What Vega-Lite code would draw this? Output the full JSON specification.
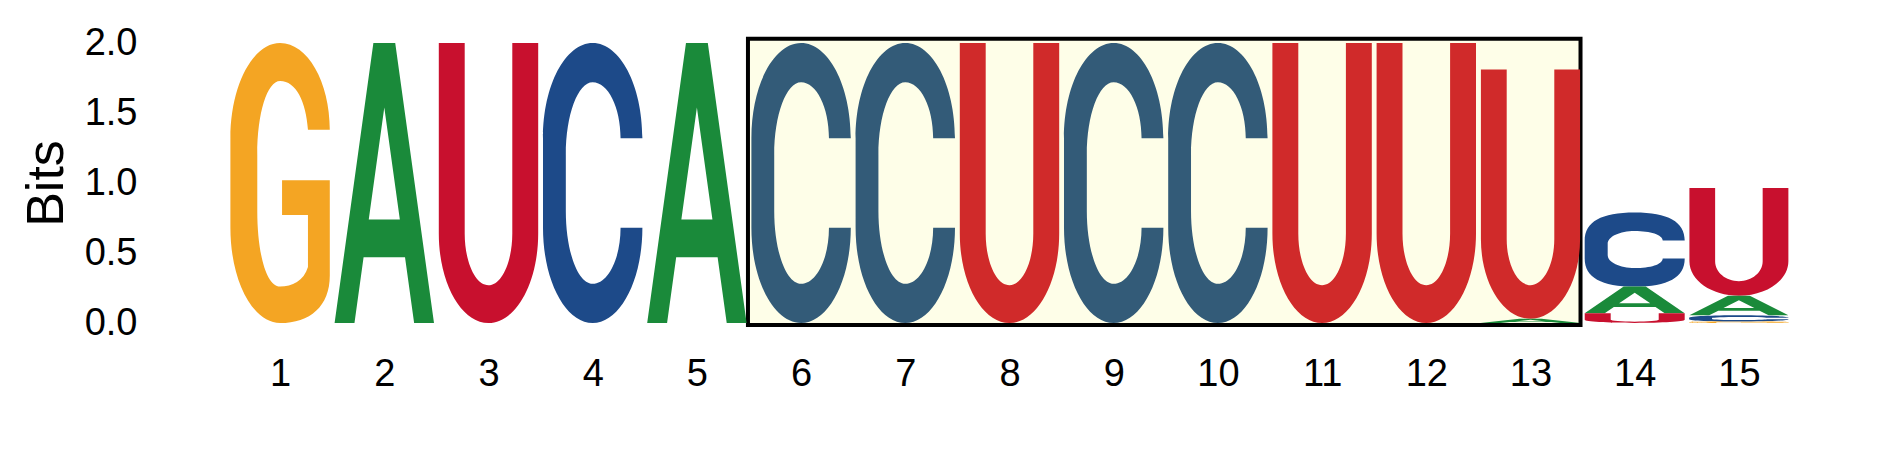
{
  "$schema": "https://vega.github.io/schema/vega-lite/v6.json",
  "width": 1563,
  "height": 280,
  "autosize": {"type": "none"},
  "padding": {"left": 228, "top": 43, "right": 98, "bottom": 149},
  "background": "white",
  "config": {"view": {"stroke": null}},
  "datasets": {
    "box": [{"x0": 5.49, "x1": 13.48, "y0": -0.014, "y1": 2.03}],
    "logo": [
      {"pos": 1, "letter": "G", "bits": 2.0},
      {"pos": 2, "letter": "A", "bits": 2.0},
      {"pos": 3, "letter": "U", "bits": 2.0},
      {"pos": 4, "letter": "C", "bits": 2.0},
      {"pos": 5, "letter": "A", "bits": 2.0},
      {"pos": 6, "letter": "C", "bits": 2.0},
      {"pos": 7, "letter": "C", "bits": 2.0},
      {"pos": 8, "letter": "U", "bits": 2.0},
      {"pos": 9, "letter": "C", "bits": 2.0},
      {"pos": 10, "letter": "C", "bits": 2.0},
      {"pos": 11, "letter": "U", "bits": 2.0},
      {"pos": 12, "letter": "U", "bits": 2.0},
      {"pos": 13, "letter": "U", "bits": 1.78},
      {"pos": 13, "letter": "A", "bits": 0.03},
      {"pos": 14, "letter": "C", "bits": 0.53},
      {"pos": 14, "letter": "A", "bits": 0.19},
      {"pos": 14, "letter": "U", "bits": 0.07},
      {"pos": 15, "letter": "U", "bits": 0.77},
      {"pos": 15, "letter": "A", "bits": 0.14},
      {"pos": 15, "letter": "C", "bits": 0.045},
      {"pos": 15, "letter": "G", "bits": 0.01}
    ]
  },
  "layer": [
    {
      "data": {"name": "box"},
      "mark": {"type": "rect", "fill": "#fefee8", "stroke": "#000000", "strokeWidth": 4},
      "encoding": {
        "x": {"field": "x0", "type": "quantitative", "scale": {"domain": [0.5, 15.5], "nice": false, "zero": false},
              "axis": {"values": [1,2,3,4,5,6,7,8,9,10,11,12,13,14,15], "title": null, "format": "d",
                       "domain": false, "ticks": false, "grid": false, "labelFlush": false,
                       "labelFont": "Liberation Sans", "labelFontSize": 38, "labelColor": "#000000",
                       "labelPadding": 32, "labelBaseline": "top"}},
        "x2": {"field": "x1"},
        "y": {"field": "y0", "type": "quantitative", "scale": {"domain": [0, 2], "nice": false, "zero": false},
              "axis": {"values": [0, 0.5, 1, 1.5, 2], "format": ".1f", "title": "Bits",
                       "domain": false, "ticks": false, "grid": false, "labelFlush": false,
                       "labelFont": "Liberation Sans", "labelFontSize": 38, "labelColor": "#000000",
                       "labelPadding": 91, "labelBaseline": "middle",
                       "titleFont": "Liberation Sans", "titleFontSize": 52, "titleFontWeight": "normal", "titleColor": "#000000",
                       "titleX": -166, "titleY": 140, "titleAngle": 270, "titleAlign": "center", "titleBaseline": "alphabetic"}},
        "y2": {"field": "y1"}
      }
    },
    {
      "data": {"name": "logo"},
      "transform": [
        {"stack": "bits", "groupby": ["pos"], "sort": [{"field": "bits", "order": "ascending"}], "as": ["b0", "b1"]},
        {"filter": "datum.bits >= 1.9 && (datum.pos < 6 || datum.pos > 13)"}
      ],
      "mark": {"type": "point", "filled": true, "opacity": 1, "strokeWidth": 0},
      "encoding": {
        "x": {"field": "pos", "type": "quantitative", "scale": {"domain": [0.5, 15.5], "nice": false, "zero": false}},
        "y": {"field": "b0", "type": "quantitative", "scale": {"domain": [0, 2], "nice": false, "zero": false}},
        "size": {"field": "bits", "type": "quantitative", "scale": {"type": "pow", "exponent": 2, "domain": [0, 2], "range": [0, 78400]}, "legend": null},
        "shape": {"field": "letter", "type": "nominal", "legend": null, "scale": {"domain": ["A", "C", "G", "U"], "range": [
          "M-0.355,0L-0.078,-2L0.078,-2L0.355,0L0.213,0L0.148,-0.47L-0.148,-0.47L-0.213,0ZM-0.111,-0.74L0.111,-0.74L0,-1.54Z",
          "M0.355,-1.32C0.355,-1.696,0.196,-2,0,-2C-0.196,-2,-0.355,-1.696,-0.355,-1.32L-0.355,-0.68C-0.355,-0.304,-0.196,0,0,0C0.196,0,0.355,-0.304,0.355,-0.68L0.199,-0.68C0.199,-0.46,0.11,-0.28,0,-0.28C-0.106,-0.28,-0.192,-0.512,-0.192,-0.8L-0.192,-1.2C-0.192,-1.488,-0.106,-1.72,0,-1.72C0.11,-1.72,0.199,-1.54,0.199,-1.32Z",
          "M0.355,-1.38C0.355,-1.722,0.196,-2,0,-2C-0.196,-2,-0.355,-1.696,-0.355,-1.32L-0.355,-0.68C-0.355,-0.304,-0.196,0,0,0C0.213,0,0.355,-0.12,0.355,-0.34L0.355,-1.02L0.014,-1.02L0.014,-0.772L0.199,-0.772L0.199,-0.4C0.17,-0.3,0.085,-0.26,0,-0.26C-0.099,-0.26,-0.163,-0.5,-0.163,-0.8L-0.163,-1.2C-0.163,-1.5,-0.092,-1.728,0,-1.728C0.114,-1.728,0.185,-1.58,0.199,-1.38Z",
          "M-0.355,-2L-0.355,-0.64C-0.355,-0.286,-0.196,0,0,0C0.196,0,0.355,-0.286,0.355,-0.64L0.355,-2L0.17,-2L0.17,-0.64C0.17,-0.436,0.094,-0.27,0,-0.27C-0.094,-0.27,-0.17,-0.436,-0.17,-0.64L-0.17,-2Z"
        ]}},
        "color": {"field": "letter", "type": "nominal", "legend": null, "scale": {"domain": ["A", "C", "G", "U"], "range": ["#1a8a3a", "#1d4a89", "#f4a523", "#c8102e"]}}
      }
    },
    {
      "data": {"name": "logo"},
      "transform": [
        {"stack": "bits", "groupby": ["pos"], "sort": [{"field": "bits", "order": "ascending"}], "as": ["b0", "b1"]},
        {"filter": "datum.bits >= 1.9 && datum.pos >= 6 && datum.pos <= 13"}
      ],
      "mark": {"type": "point", "filled": true, "opacity": 1, "strokeWidth": 0},
      "encoding": {
        "x": {"field": "pos", "type": "quantitative", "scale": {"domain": [0.5, 15.5], "nice": false, "zero": false}},
        "y": {"field": "b0", "type": "quantitative", "scale": {"domain": [0, 2], "nice": false, "zero": false}},
        "size": {"field": "bits", "type": "quantitative", "scale": {"type": "pow", "exponent": 2, "domain": [0, 2], "range": [0, 78400]}, "legend": null},
        "shape": {"field": "letter", "type": "nominal", "legend": null, "scale": {"domain": ["A", "C", "G", "U"], "range": [
          "M-0.355,0L-0.078,-2L0.078,-2L0.355,0L0.213,0L0.148,-0.47L-0.148,-0.47L-0.213,0ZM-0.111,-0.74L0.111,-0.74L0,-1.54Z",
          "M0.355,-1.32C0.355,-1.696,0.196,-2,0,-2C-0.196,-2,-0.355,-1.696,-0.355,-1.32L-0.355,-0.68C-0.355,-0.304,-0.196,0,0,0C0.196,0,0.355,-0.304,0.355,-0.68L0.199,-0.68C0.199,-0.46,0.11,-0.28,0,-0.28C-0.106,-0.28,-0.192,-0.512,-0.192,-0.8L-0.192,-1.2C-0.192,-1.488,-0.106,-1.72,0,-1.72C0.11,-1.72,0.199,-1.54,0.199,-1.32Z",
          "M0.355,-1.38C0.355,-1.722,0.196,-2,0,-2C-0.196,-2,-0.355,-1.696,-0.355,-1.32L-0.355,-0.68C-0.355,-0.304,-0.196,0,0,0C0.213,0,0.355,-0.12,0.355,-0.34L0.355,-1.02L0.014,-1.02L0.014,-0.772L0.199,-0.772L0.199,-0.4C0.17,-0.3,0.085,-0.26,0,-0.26C-0.099,-0.26,-0.163,-0.5,-0.163,-0.8L-0.163,-1.2C-0.163,-1.5,-0.092,-1.728,0,-1.728C0.114,-1.728,0.185,-1.58,0.199,-1.38Z",
          "M-0.355,-2L-0.355,-0.64C-0.355,-0.286,-0.196,0,0,0C0.196,0,0.355,-0.286,0.355,-0.64L0.355,-2L0.17,-2L0.17,-0.64C0.17,-0.436,0.094,-0.27,0,-0.27C-0.094,-0.27,-0.17,-0.436,-0.17,-0.64L-0.17,-2Z"
        ]}},
        "color": {"field": "letter", "type": "nominal", "legend": null, "scale": {"domain": ["A", "C", "G", "U"], "range": ["#1a8a3a", "#335b78", "#f4a523", "#d02a2a"]}}
      }
    },
    {
      "data": {"name": "logo"},
      "transform": [
        {"stack": "bits", "groupby": ["pos"], "sort": [{"field": "bits", "order": "ascending"}], "as": ["b0", "b1"]},
        {"filter": "datum.bits >= 1.5 && datum.bits < 1.9"}
      ],
      "mark": {"type": "point", "filled": true, "opacity": 1, "strokeWidth": 0},
      "encoding": {
        "x": {"field": "pos", "type": "quantitative", "scale": {"domain": [0.5, 15.5], "nice": false, "zero": false}},
        "y": {"field": "b0", "type": "quantitative", "scale": {"domain": [0, 2], "nice": false, "zero": false}},
        "size": {"field": "bits", "type": "quantitative", "scale": {"type": "pow", "exponent": 2, "domain": [0, 2], "range": [0, 78400]}, "legend": null},
        "shape": {"field": "letter", "type": "nominal", "legend": null, "scale": {"domain": ["U"], "range": [
          "M-0.398,-2L-0.398,-0.64C-0.398,-0.286,-0.219,0,0,0C0.219,0,0.398,-0.286,0.398,-0.64L0.398,-2L0.191,-2L0.191,-0.64C0.191,-0.436,0.105,-0.27,0,-0.27C-0.105,-0.27,-0.191,-0.436,-0.191,-0.64L-0.191,-2Z"
        ]}},
        "color": {"field": "letter", "type": "nominal", "legend": null, "scale": {"domain": ["U"], "range": ["#d02a2a"]}}
      }
    },
    {
      "data": {"name": "logo"},
      "transform": [
        {"stack": "bits", "groupby": ["pos"], "sort": [{"field": "bits", "order": "ascending"}], "as": ["b0", "b1"]},
        {"filter": "datum.bits >= 0.6 && datum.bits < 1.5"}
      ],
      "mark": {"type": "point", "filled": true, "opacity": 1, "strokeWidth": 0},
      "encoding": {
        "x": {"field": "pos", "type": "quantitative", "scale": {"domain": [0.5, 15.5], "nice": false, "zero": false}},
        "y": {"field": "b0", "type": "quantitative", "scale": {"domain": [0, 2], "nice": false, "zero": false}},
        "size": {"field": "bits", "type": "quantitative", "scale": {"type": "pow", "exponent": 2, "domain": [0, 2], "range": [0, 78400]}, "legend": null},
        "shape": {"field": "letter", "type": "nominal", "legend": null, "scale": {"domain": ["U"], "range": [
          "M-0.918,-2L-0.918,-0.64C-0.918,-0.286,-0.507,0,0,0C0.507,0,0.918,-0.286,0.918,-0.64L0.918,-2L0.441,-2L0.441,-0.64C0.441,-0.436,0.243,-0.27,0,-0.27C-0.243,-0.27,-0.441,-0.436,-0.441,-0.64L-0.441,-2Z"
        ]}},
        "color": {"field": "letter", "type": "nominal", "legend": null, "scale": {"domain": ["U"], "range": ["#c8102e"]}}
      }
    },
    {
      "data": {"name": "logo"},
      "transform": [
        {"stack": "bits", "groupby": ["pos"], "sort": [{"field": "bits", "order": "ascending"}], "as": ["b0", "b1"]},
        {"filter": "datum.bits >= 0.4 && datum.bits < 0.6"}
      ],
      "mark": {"type": "point", "filled": true, "opacity": 1, "strokeWidth": 0},
      "encoding": {
        "x": {"field": "pos", "type": "quantitative", "scale": {"domain": [0.5, 15.5], "nice": false, "zero": false}},
        "y": {"field": "b0", "type": "quantitative", "scale": {"domain": [0, 2], "nice": false, "zero": false}},
        "size": {"field": "bits", "type": "quantitative", "scale": {"type": "pow", "exponent": 2, "domain": [0, 2], "range": [0, 78400]}, "legend": null},
        "shape": {"field": "letter", "type": "nominal", "legend": null, "scale": {"domain": ["C"], "range": [
          "M1.348,-1.24C1.348,-1.75,0.9,-2,0,-2C-0.9,-2,-1.348,-1.75,-1.348,-1.24L-1.348,-0.76C-1.348,-0.25,-0.9,0,0,0C0.9,0,1.348,-0.25,1.348,-0.76L0.755,-0.76C0.755,-0.6,0.418,-0.5,0,-0.5C-0.402,-0.5,-0.728,-0.65,-0.728,-0.85L-0.728,-1.15C-0.728,-1.35,-0.402,-1.5,0,-1.5C0.418,-1.5,0.755,-1.4,0.755,-1.24Z"
        ]}},
        "color": {"field": "letter", "type": "nominal", "legend": null, "scale": {"domain": ["C"], "range": ["#1d4a89"]}}
      }
    },
    {
      "data": {"name": "logo"},
      "transform": [
        {"stack": "bits", "groupby": ["pos"], "sort": [{"field": "bits", "order": "ascending"}], "as": ["b0", "b1"]},
        {"filter": "datum.bits >= 0.16 && datum.bits < 0.4"}
      ],
      "mark": {"type": "point", "filled": true, "opacity": 1, "strokeWidth": 0},
      "encoding": {
        "x": {"field": "pos", "type": "quantitative", "scale": {"domain": [0.5, 15.5], "nice": false, "zero": false}},
        "y": {"field": "b0", "type": "quantitative", "scale": {"domain": [0, 2], "nice": false, "zero": false}},
        "size": {"field": "bits", "type": "quantitative", "scale": {"type": "pow", "exponent": 2, "domain": [0, 2], "range": [0, 78400]}, "legend": null},
        "shape": {"field": "letter", "type": "nominal", "legend": null, "scale": {"domain": ["A"], "range": [
          "M-3.76,0L-0.827,-2L0.827,-2L3.76,0L2.256,0L1.566,-0.47L-1.566,-0.47L-2.256,0ZM-1.171,-0.74L1.171,-0.74L0,-1.54Z"
        ]}},
        "color": {"field": "letter", "type": "nominal", "legend": null, "scale": {"domain": ["A"], "range": ["#1a8a3a"]}}
      }
    },
    {
      "data": {"name": "logo"},
      "transform": [
        {"stack": "bits", "groupby": ["pos"], "sort": [{"field": "bits", "order": "ascending"}], "as": ["b0", "b1"]},
        {"filter": "datum.bits >= 0.1 && datum.bits < 0.16"}
      ],
      "mark": {"type": "point", "filled": true, "opacity": 1, "strokeWidth": 0},
      "encoding": {
        "x": {"field": "pos", "type": "quantitative", "scale": {"domain": [0.5, 15.5], "nice": false, "zero": false}},
        "y": {"field": "b0", "type": "quantitative", "scale": {"domain": [0, 2], "nice": false, "zero": false}},
        "size": {"field": "bits", "type": "quantitative", "scale": {"type": "pow", "exponent": 2, "domain": [0, 2], "range": [0, 78400]}, "legend": null},
        "shape": {"field": "letter", "type": "nominal", "legend": null, "scale": {"domain": ["A"], "range": [
          "M-5.05,0L-1.111,-2L1.111,-2L5.05,0L3.03,0L2.104,-0.47L-2.104,-0.47L-3.03,0ZM-1.573,-0.74L1.573,-0.74L0,-1.54Z"
        ]}},
        "color": {"field": "letter", "type": "nominal", "legend": null, "scale": {"domain": ["A"], "range": ["#1a8a3a"]}}
      }
    },
    {
      "data": {"name": "logo"},
      "transform": [
        {"stack": "bits", "groupby": ["pos"], "sort": [{"field": "bits", "order": "ascending"}], "as": ["b0", "b1"]},
        {"filter": "datum.bits >= 0.06 && datum.bits < 0.1"}
      ],
      "mark": {"type": "point", "filled": true, "opacity": 1, "strokeWidth": 0},
      "encoding": {
        "x": {"field": "pos", "type": "quantitative", "scale": {"domain": [0.5, 15.5], "nice": false, "zero": false}},
        "y": {"field": "b0", "type": "quantitative", "scale": {"domain": [0, 2], "nice": false, "zero": false}},
        "size": {"field": "bits", "type": "quantitative", "scale": {"type": "pow", "exponent": 2, "domain": [0, 2], "range": [0, 78400]}, "legend": null},
        "shape": {"field": "letter", "type": "nominal", "legend": null, "scale": {"domain": ["U"], "range": [
          "M-10.2,-2L-10.2,-0.64C-10.2,-0.286,-5.63,0,0,0C5.63,0,10.2,-0.286,10.2,-0.64L10.2,-2L4.9,-2L4.9,-0.64C4.9,-0.436,2.705,-0.27,0,-0.27C-2.705,-0.27,-4.9,-0.436,-4.9,-0.64L-4.9,-2Z"
        ]}},
        "color": {"field": "letter", "type": "nominal", "legend": null, "scale": {"domain": ["U"], "range": ["#c8102e"]}}
      }
    },
    {
      "data": {"name": "logo"},
      "transform": [
        {"stack": "bits", "groupby": ["pos"], "sort": [{"field": "bits", "order": "ascending"}], "as": ["b0", "b1"]},
        {"filter": "datum.bits >= 0.04 && datum.bits < 0.06"}
      ],
      "mark": {"type": "point", "filled": true, "opacity": 1, "strokeWidth": 0},
      "encoding": {
        "x": {"field": "pos", "type": "quantitative", "scale": {"domain": [0.5, 15.5], "nice": false, "zero": false}},
        "y": {"field": "b0", "type": "quantitative", "scale": {"domain": [0, 2], "nice": false, "zero": false}},
        "size": {"field": "bits", "type": "quantitative", "scale": {"type": "pow", "exponent": 2, "domain": [0, 2], "range": [0, 78400]}, "legend": null},
        "shape": {"field": "letter", "type": "nominal", "legend": null, "scale": {"domain": ["C"], "range": [
          "M15.8,-1.24C15.8,-1.69,8.72,-2,0,-2C-8.72,-2,-15.8,-1.69,-15.8,-1.24L-15.8,-0.76C-15.8,-0.31,-8.72,0,0,0C8.72,0,15.8,-0.31,15.8,-0.76L8.85,-0.76C8.85,-0.6,4.9,-0.5,0,-0.5C-4.71,-0.5,-8.53,-0.65,-8.53,-0.85L-8.53,-1.15C-8.53,-1.35,-4.71,-1.5,0,-1.5C4.9,-1.5,8.85,-1.4,8.85,-1.24Z"
        ]}},
        "color": {"field": "letter", "type": "nominal", "legend": null, "scale": {"domain": ["C"], "range": ["#1d4a89"]}}
      }
    },
    {
      "data": {"name": "logo"},
      "transform": [
        {"stack": "bits", "groupby": ["pos"], "sort": [{"field": "bits", "order": "ascending"}], "as": ["b0", "b1"]},
        {"filter": "datum.bits >= 0.02 && datum.bits < 0.04"}
      ],
      "mark": {"type": "point", "filled": true, "opacity": 1, "strokeWidth": 0},
      "encoding": {
        "x": {"field": "pos", "type": "quantitative", "scale": {"domain": [0.5, 15.5], "nice": false, "zero": false}},
        "y": {"field": "b0", "type": "quantitative", "scale": {"domain": [0, 2], "nice": false, "zero": false}},
        "size": {"field": "bits", "type": "quantitative", "scale": {"type": "pow", "exponent": 2, "domain": [0, 2], "range": [0, 78400]}, "legend": null},
        "shape": {"field": "letter", "type": "nominal", "legend": null, "scale": {"domain": ["A"], "range": [
          "M-23.8,0L-5.24,-2L5.24,-2L23.8,0L14.28,0L9.915,-0.47L-9.915,-0.47L-14.28,0ZM-7.41,-0.74L7.41,-0.74L0,-1.54Z"
        ]}},
        "color": {"field": "letter", "type": "nominal", "legend": null, "scale": {"domain": ["A"], "range": ["#1a8a3a"]}}
      }
    },
    {
      "data": {"name": "logo"},
      "transform": [
        {"stack": "bits", "groupby": ["pos"], "sort": [{"field": "bits", "order": "ascending"}], "as": ["b0", "b1"]},
        {"filter": "datum.bits < 0.02"}
      ],
      "mark": {"type": "point", "filled": true, "opacity": 1, "strokeWidth": 0},
      "encoding": {
        "x": {"field": "pos", "type": "quantitative", "scale": {"domain": [0.5, 15.5], "nice": false, "zero": false}},
        "y": {"field": "b0", "type": "quantitative", "scale": {"domain": [0, 2], "nice": false, "zero": false}},
        "size": {"field": "bits", "type": "quantitative", "scale": {"type": "pow", "exponent": 2, "domain": [0, 2], "range": [0, 78400]}, "legend": null},
        "shape": {"field": "letter", "type": "nominal", "legend": null, "scale": {"domain": ["G"], "range": [
          "M71,-1.38C71,-1.722,39.2,-2,0,-2C-39.2,-2,-71,-1.696,-71,-1.32L-71,-0.68C-71,-0.304,-39.2,0,0,0C42.6,0,71,-0.12,71,-0.34L71,-1.02L2.84,-1.02L2.84,-0.772L39.8,-0.772L39.8,-0.4C34.1,-0.3,17.04,-0.26,0,-0.26C-19.9,-0.26,-32.7,-0.5,-32.7,-0.8L-32.7,-1.2C-32.7,-1.5,-18.5,-1.728,0,-1.728C22.7,-1.728,36.9,-1.58,39.8,-1.38Z"
        ]}},
        "color": {"field": "letter", "type": "nominal", "legend": null, "scale": {"domain": ["G"], "range": ["#f4a523"]}}
      }
    }
  ],
  "resolve": {"scale": {"color": "independent", "shape": "independent"}}
}
